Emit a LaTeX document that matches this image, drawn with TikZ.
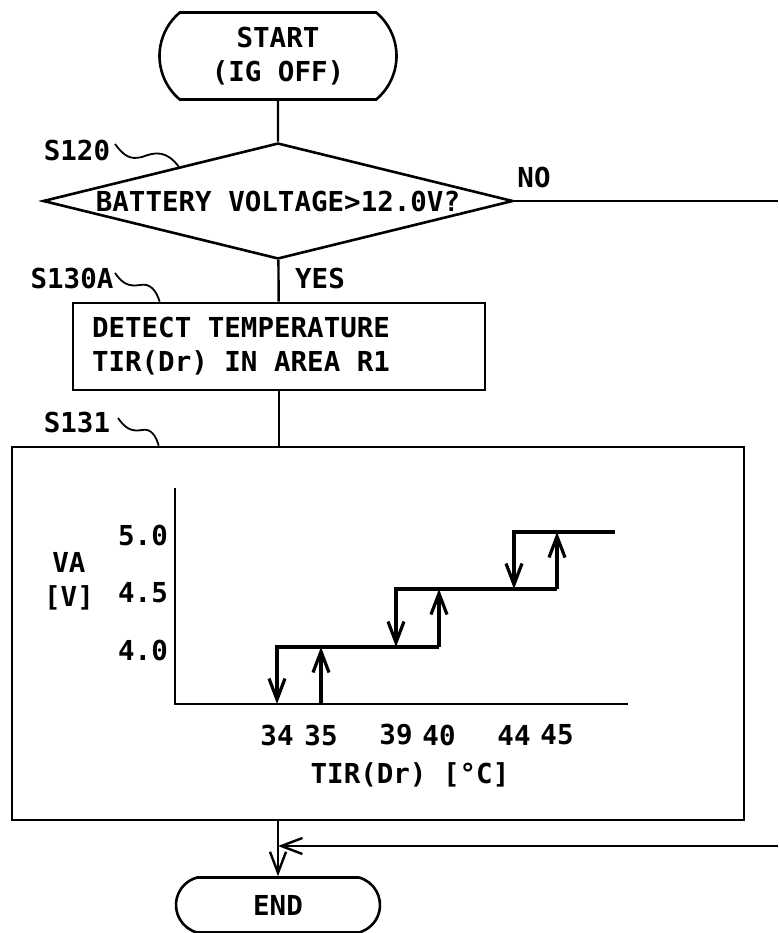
\documentclass[tikz,border=0pt]{standalone}
\usepackage{fontspec}
\setmainfont{DejaVu Sans Mono}
\usetikzlibrary{positioning,arrows.meta,calc,shapes.geometric,shapes.misc}

\tikzset{
  flow/.style={line width=2.4pt},
  term/.style={draw,rounded rectangle,line width=2.6pt,align=center,inner sep=0pt},
  procbox/.style={draw,rectangle,line width=2.6pt,inner sep=0pt},
  decide/.style={draw,diamond,line width=2.6pt,inner sep=0pt,aspect=4},
  leader/.style={line width=1.8pt},
  axis/.style={line width=1.8pt},
  stair/.style={line width=3.2pt},
  barb/.style={-{Straight Barb[length=21pt,width=16pt]}},
}

\begin{document}
\begin{tikzpicture}[x=1pt,y=-1pt,font=\fontsize{27.5}{34}\selectfont\bfseries]
  \useasboundingbox (0,0) rectangle (778,933);

  % flow chart
  \node[term,rounded rectangle arc length=100,minimum width=237,minimum height=87]
    (start) at (278,56) {START\\(IG OFF)};
  \node[decide,minimum width=470,minimum height=116] (dec) at (278,201)
    {BATTERY VOLTAGE>12.0V?};
  \node[procbox,minimum width=412,minimum height=87,text width=374,
    align=flush left] (proc) at (279,346.5)
    {DETECT TEMPERATURE\\TIR(Dr) IN AREA R1};
  \node[procbox,minimum width=732,minimum height=373] (graph) at (378,633.5) {};
  \node[term,rounded rectangle arc length=150,minimum width=204,minimum height=55]
    (endn) at (278,905) {END};

  \draw[flow] (start) -- (dec);
  \draw[flow] (dec) -- (proc);
  \draw[flow] (proc.south) -- (proc.south |- graph.north);
  \draw[flow,barb] (graph.south -| endn.north) -- (endn.north);

  % NO branch leaves and comes back at the right edge
  \coordinate (noout) at (778,201);
  \coordinate (noin) at (778,846);
  \draw[flow] (dec.east) -- (noout);
  \draw[flow,barb] (noin) -- (noin -| endn.north);
  \node (no) at (534,177) {NO};
  \node (yes) at (320,278) {YES};

  % step labels
  \node (l120) at (77,150) {S120};
  \node (l130) at (72,278) {S130A};
  \node (l131) at (77,422) {S131};
  \draw[leader] (115,144) .. controls (124,156) and (130,160) .. (142,157)
    .. controls (155,152) and (166,150) .. ($(dec.north)!0.42!(dec.west)$);
  \draw[leader] (115,273) .. controls (122,283) and (128,287) .. (140,285)
    .. controls (150,283) and (156,290) .. ([xshift=88pt]proc.north west);
  \draw[leader] (118,418) .. controls (125,428) and (131,432) .. (142,430)
    .. controls (151,428) and (156,436) .. ([xshift=148pt]graph.north west);

  % VA against TIR(Dr)
  \draw[axis] (175,488) -- (175,704) -- (628,704);
  \node at (143,535) {5.0};
  \node at (143,593) {4.5};
  \node at (143,650) {4.0};
  \node[align=center] at (69,581) {VA\\{[V]}};
  \foreach \t/\x in {34/277,35/321,39/396,40/439,44/514,45/557}
    \node at (\x,735) {\t};
  \node at (410,775) {TIR(Dr) [°C]};

  % falling and rising thresholds
  \draw[stair,barb] (439,647) -- (277,647) -- (277,704);
  \draw[stair,barb] (557,589) -- (396,589) -- (396,647);
  \draw[stair,barb] (615,532) -- (514,532) -- (514,589);
  \draw[stair,barb] (321,704) -- (321,647);
  \draw[stair,barb] (439,647) -- (439,589);
  \draw[stair,barb] (557,589) -- (557,532);

\end{tikzpicture}
\end{document}
